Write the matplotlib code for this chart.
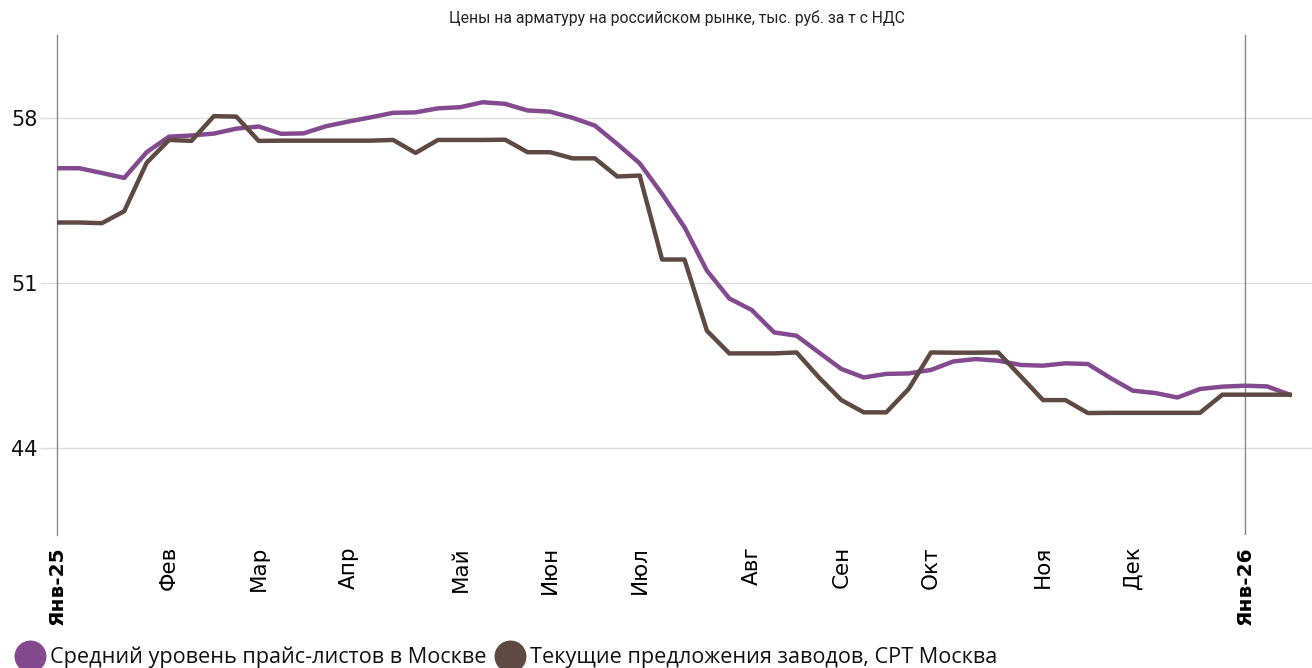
import numpy as np
import matplotlib
matplotlib.use("Agg")
import matplotlib.pyplot as plt
from matplotlib.lines import Line2D

# weekly prices, thousand RUB per t incl. VAT
price_list_msk = [55.85, 55.85, 55.65, 55.44, 56.53, 57.19, 57.24, 57.32, 57.53, 57.62,
                  57.31, 57.33, 57.63, 57.83, 58.01, 58.20, 58.22, 58.39, 58.44, 58.65,
                  58.58, 58.30, 58.25, 57.99, 57.66, 56.88, 56.06, 54.76, 53.35, 51.51,
                  50.33, 49.84, 48.89, 48.75, 48.04, 47.34, 46.98, 47.13, 47.15, 47.30,
                  47.66, 47.76, 47.69, 47.51, 47.48, 47.58, 47.55, 46.96, 46.42, 46.32,
                  46.13, 46.49, 46.59, 46.63, 46.60, 46.25]
plant_offers = [53.55, 53.55, 53.52, 54.03, 56.08, 57.05, 57.01, 58.06, 58.04, 57.01,
                57.02, 57.02, 57.02, 57.02, 57.02, 57.05, 56.50, 57.05, 57.05, 57.05,
                57.06, 56.53, 56.53, 56.27, 56.27, 55.50, 55.54, 51.98, 51.98, 48.96,
                48.00, 48.00, 48.00, 48.04, 46.98, 46.02, 45.50, 45.50, 46.49, 48.04,
                48.03, 48.03, 48.04, 47.03, 46.02, 46.02, 45.47, 45.48, 45.48, 45.48,
                45.48, 45.48, 46.25, 46.25, 46.25, 46.25]

month_weeks = [0, 5, 9, 13, 18, 22, 26, 31, 35, 39, 44, 48, 53]
month_labels = ["Янв-25", "Фев", "Мар", "Апр", "Май", "Июн", "Июл",
                "Авг", "Сен", "Окт", "Ноя", "Дек", "Янв-26"]
y_ticks = [44, 51, 58]

series_names = ["Средний уровень прайс-листов в Москве",
                "Текущие предложения заводов, CPT Москва"]
purple = "#834a8f"
brown = "#5e4a42"

weeks = np.arange(len(price_list_msk))

fig = plt.figure(figsize=(13.12, 6.68), dpi=100)
ax = fig.add_axes([57 / 1312, 1 - 535 / 668, 1 - 57 / 1312, 500 / 668])

ax.plot(weeks, price_list_msk, color=purple, lw=3.2, solid_joinstyle="round", zorder=3)
ax.plot(weeks, plant_offers, color=brown, lw=3.2, solid_joinstyle="round", zorder=3)

ax.set_xlim(0, 56)
ax.set_ylim(40.3, 61.5)

ax.set_yticks(y_ticks)
ax.yaxis.grid(True, color="#dddddd", lw=1)
ax.tick_params(axis="y", length=12, color="#dddddd", width=1, pad=2,
               labelsize=15, labelcolor="#111111")

ax.set_xticks(month_weeks)
ax.set_xticklabels(month_labels, rotation=90, fontsize=15.5)
ax.tick_params(axis="x", length=0, pad=8)
for t in ax.get_xticklabels():
    if t.get_text().startswith("Янв"):
        t.set_fontweight("bold")
        t.set_fontsize(14.5)

for s in ["top", "right", "bottom"]:
    ax.spines[s].set_visible(False)
ax.spines["left"].set_color("#888888")
ax.spines["left"].set_linewidth(1)
ax.axvline(month_weeks[-1], color="#888888", lw=1, zorder=2)

fig.text(677 / 1312, 1 - 18 / 668, "Цены на арматуру на российском рынке, тыс. руб. за т с НДС",
         ha="center", va="center", fontsize=11.3, family="Roboto", color="#222222")

# legend drawn at the bottom edge, partly cut off as in the source
legend_x = [30, 510]
for name, col, lx in zip(series_names, [purple, brown], legend_x):
    fig.add_artist(Line2D([lx / 1312], [1 - 656 / 668], ls="none", marker="o",
                          markersize=22, color=col, transform=fig.transFigure))
    fig.text((lx + 20) / 1312, 1 - 657 / 668, name, ha="left", va="center",
             fontsize=15.6, family="Open Sans", color="#111111")

fig.savefig("out.png", dpi=100)
